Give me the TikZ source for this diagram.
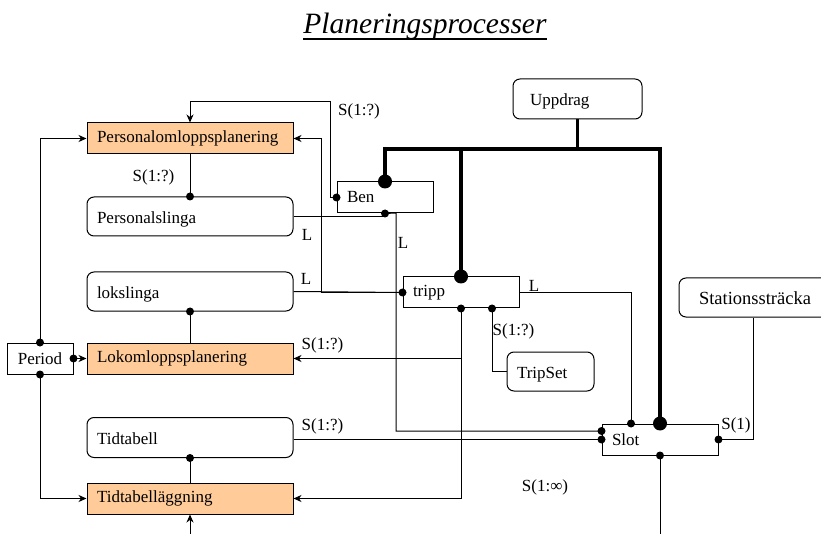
\documentclass[tikz,border=0pt]{standalone}
\usepackage{fontspec}
\setmainfont{Liberation Serif}
\usetikzlibrary{arrows.meta,calc}
\definecolor{procfill}{HTML}{FFCC99}

\begin{document}
\begin{tikzpicture}[x=1pt,y=-1pt,
  every node/.style={font=\fontsize{17}{20}\selectfont},
  box/.style={draw, line width=1pt, inner xsep=10pt, inner ysep=0pt, align=left},
  proc/.style={box, fill=procfill, minimum width=206, minimum height=31, text width=186},
  item/.style={box, rounded corners=7pt, text height=15pt, text depth=1pt},
  link/.style={line width=1pt},
  arr/.style={link, -{Stealth[length=8pt,width=7pt,inset=2.5pt]}},
  heavy/.style={line width=3.5pt},
  lbl/.style={inner sep=0pt}
]
\useasboundingbox (0,0) rectangle (821,534);
\clip (0,0) rectangle (821,534);

% title
\node[font=\fontsize{29.5}{34}\selectfont\itshape, inner sep=0pt, anchor=base] (title) at (425,34) {Planeringsprocesser};
\draw[line width=2pt] ([yshift=-5pt]title.base west) -- ([yshift=-5pt]title.base east);

% planning processes and their data
\node[proc] (pop) at (190,138.5) {Personalomloppsplanering};
\node[item, minimum width=206, minimum height=39, text width=186] (psl) at (190,216.5) {Personalslinga};
\node[item, minimum width=206, minimum height=39, text width=186] (loks) at (190,291.5) {lokslinga};
\node[proc] (lop) at (190,358.5) {Lokomloppsplanering};
\node[box, minimum width=66, minimum height=31, text width=46, align=center] (per) at (40,358.5) {Period};
\node[item, minimum width=206, minimum height=40, text width=186] (tt) at (190,437.5) {Tidtabell};
\node[proc] (ttl) at (190,498.5) {Tidtabelläggning};

% entities
\node[box, minimum width=96, minimum height=31, text width=76] (ben) at (385,197.5) {Ben};
\node[box, minimum width=116, minimum height=31, text width=96] (tripp) at (461,292.5) {tripp};
\node[item, minimum width=87, minimum height=39, text width=67] (tset) at (550.5,371.5) {TripSet};
\node[item, minimum width=129, minimum height=40, inner xsep=17pt, text width=95] (upp) at (577.5,99) {Uppdrag};
\node[box, minimum width=116, minimum height=31, text width=96] (slot) at (660,439.5) {Slot};
\node[item, minimum width=160, minimum height=39, inner xsep=20pt, text width=120, font=\fontsize{18.5}{21}\selectfont] (sta) at (759,297.5) {Stationssträcka};

% helper points
\coordinate (b1) at (330,102);
\coordinate (t1) at (321,138.5);
\coordinate (v1) at (396,213);
\coordinate (hy) at (0,149);
\coordinate (slotA) at ($(slot.west)+(0,-8.5)$);
\coordinate (slotT) at ($(slot.north)+(-29,0)$);
\coordinate (trippB) at ($(tripp.south)+(31,0)$);
\coordinate (staB) at ($(sta.south west)+(75,0)$);
\coordinate (slotOut) at (660,534);
\coordinate (ttIn) at (190,534);

% thin connectors
\draw[link] (pop.south) -- (psl.north);
\draw[link] (loks.south) -- (lop.north);
\draw[link] (tt.south) -- (ttl.north);
\draw[arr] (ben.west) -| (b1) -| (pop.north);
\draw[arr] (tripp.west) -| (t1) -- (pop.east);
\draw[link] (loks.east) -- (tripp.west);
\draw[link] (psl.east) -| (ben.south);
\draw[link] (ben.south) -- (v1) |- (slotA);
\draw[link] (tt.east |- slot.west) -- (slot.west);
\draw[link] (tripp.east) -| (slotT);
\draw[link] (slot.east) -| (staB);
\draw[link] (slot.south) -- (slotOut);
\draw[arr] (tripp.south) |- (ttl.east);
\draw[arr] (tripp.south |- lop.east) -- (lop.east);
\draw[link] (trippB) |- (tset.west);
\draw[arr] (per.north) |- (pop.west);
\draw[arr] (per.east) -- (lop.west);
\draw[arr] (per.south) |- (ttl.west);
\draw[arr] (ttIn) -- (ttl.south);

% heavy tree from Uppdrag
\draw[heavy] (upp.south) -- (upp.south |- hy);
\draw[heavy] (ben.north) |- (slot.north |- hy) -- (slot.north);
\draw[heavy] (tripp.north |- hy) -- (tripp.north);

% connection dots
\foreach \p in {psl.north, ben.west, ben.south, tripp.west, tripp.south, trippB,
  loks.south, per.north, per.east, per.south, tt.south, slotA, slot.west,
  slotT, slot.east, slot.south}
  \fill (\p) circle (4);
\foreach \p in {ben.north, tripp.north, slot.north}
  \fill (\p) circle (7);

% labels
\node[lbl] (l1) at (153.5,177) {S(1:?)};
\node[lbl] (l2) at (359,111) {S(1:?)};
\node[lbl] (l3) at (307,235) {L};
\node[lbl] (l4) at (306,279) {L};
\node[lbl] (l5) at (403,243) {L};
\node[lbl] (l6) at (322.5,345) {S(1:?)};
\node[lbl] (l7) at (322.5,426) {S(1:?)};
\node[lbl] (l8) at (534,286) {L};
\node[lbl] (l9) at (513.5,331) {S(1:?)};
\node[lbl] (l10) at (736,425) {S(1)};
\node[lbl] (l11) at (545,487) {S(1:∞)};
\end{tikzpicture}
\end{document}
